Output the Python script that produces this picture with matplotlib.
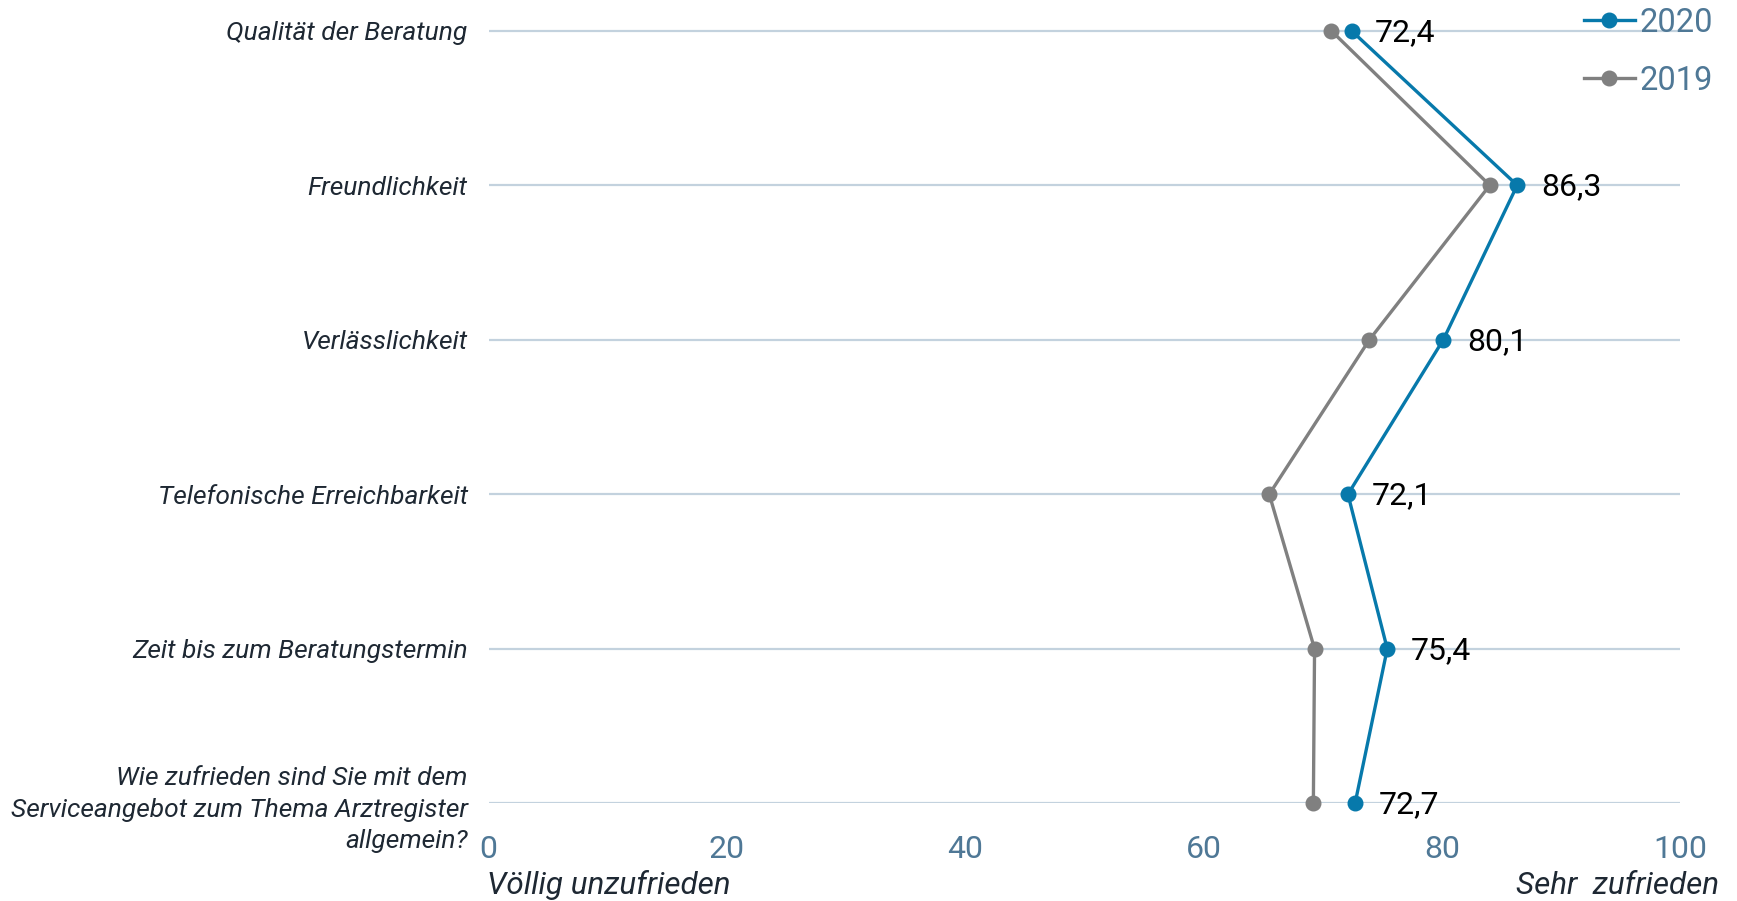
import matplotlib
matplotlib.use("Agg")
import matplotlib.pyplot as plt
from matplotlib.transforms import offset_copy

categories = [
    "Qualität der Beratung",
    "Freundlichkeit",
    "Verlässlichkeit",
    "Telefonische Erreichbarkeit",
    "Zeit bis zum Beratungstermin",
    "Wie zufrieden sind Sie mit dem\nServiceangebot zum Thema Arztregister\nallgemein?",
]
values_2020 = [72.4, 86.3, 80.1, 72.1, 75.4, 72.7]
values_2019 = [70.7, 84.0, 73.9, 65.5, 69.3, 69.2]
x_ticks = [0, 20, 40, 60, 80, 100]
x_tick_labels = ["0", "20", "40", "60", "80", "100"]
series_labels = ["2020", "2019"]

BLUE = "#0779ab"
GRAY = "#808080"
GRID = "#c3d2de"
TICK_COLOR = "#4f7896"
TEXT_DARK = "#1e2833"

plt.rcParams["font.family"] = ["Roboto", "DejaVu Sans"]

W, H, DPI = 1737, 901, 100
fig = plt.figure(figsize=(W / DPI, H / DPI), dpi=DPI)

left_px, right_px = 488.5, 1680.5
bottom_px = 803.3
ax = fig.add_axes([left_px / W, (H - bottom_px) / H, (right_px - left_px) / W, bottom_px / H])

rows = list(range(len(categories)))
ax.set_xlim(0, 100)
ax.set_ylim(5, -0.199)

for r in rows:
    ax.axhline(r, color=GRID, lw=1.6, zorder=1)

l20, = ax.plot(values_2020, rows, color=BLUE, lw=2.4, marker="o", ms=10.5,
               clip_on=False, zorder=4, label=series_labels[0])
l19, = ax.plot(values_2019, rows, color=GRAY, lw=2.4, marker="o", ms=10.5,
               clip_on=False, zorder=3, label=series_labels[1])

label_tr = offset_copy(ax.transData, fig=fig, x=17, y=-1, units="points")
for v, r in zip(values_2020, rows):
    ax.text(v, r, f"{v:.1f}".replace(".", ","), transform=label_tr,
            ha="left", va="center", fontsize=23, color="black", zorder=5)

ax.set_xticks(x_ticks)
ax.set_xticklabels(x_tick_labels)
ax.tick_params(axis="x", length=0, pad=23, labelsize=23, labelcolor=TICK_COLOR)

ax.set_yticks(rows)
ax.set_yticklabels(categories, fontstyle="italic", fontsize=19, color=TEXT_DARK,
                   ha="right", multialignment="right", linespacing=1.4)
ax.tick_params(axis="y", length=0, pad=15)

for s in ax.spines.values():
    s.set_visible(False)

fig.text(left_px / W - 0.001, 1 - 885 / H, "Völlig unzufrieden", fontstyle="italic",
         fontsize=22.6, color=TEXT_DARK, ha="left", va="center")
fig.text(1719 / W, 1 - 885 / H, "Sehr  zufrieden", fontstyle="italic",
         fontsize=22.6, color=TEXT_DARK, ha="right", va="center")

leg = fig.legend(handles=[l20, l19], loc="upper right",
                 bbox_to_anchor=(1713 / W, 1 - 6.5 / H), frameon=False,
                 fontsize=23.5, labelcolor=TICK_COLOR, handlelength=1.55,
                 handletextpad=0.15, labelspacing=0.8, borderpad=0, borderaxespad=0)

fig.savefig("out.png", dpi=DPI)
